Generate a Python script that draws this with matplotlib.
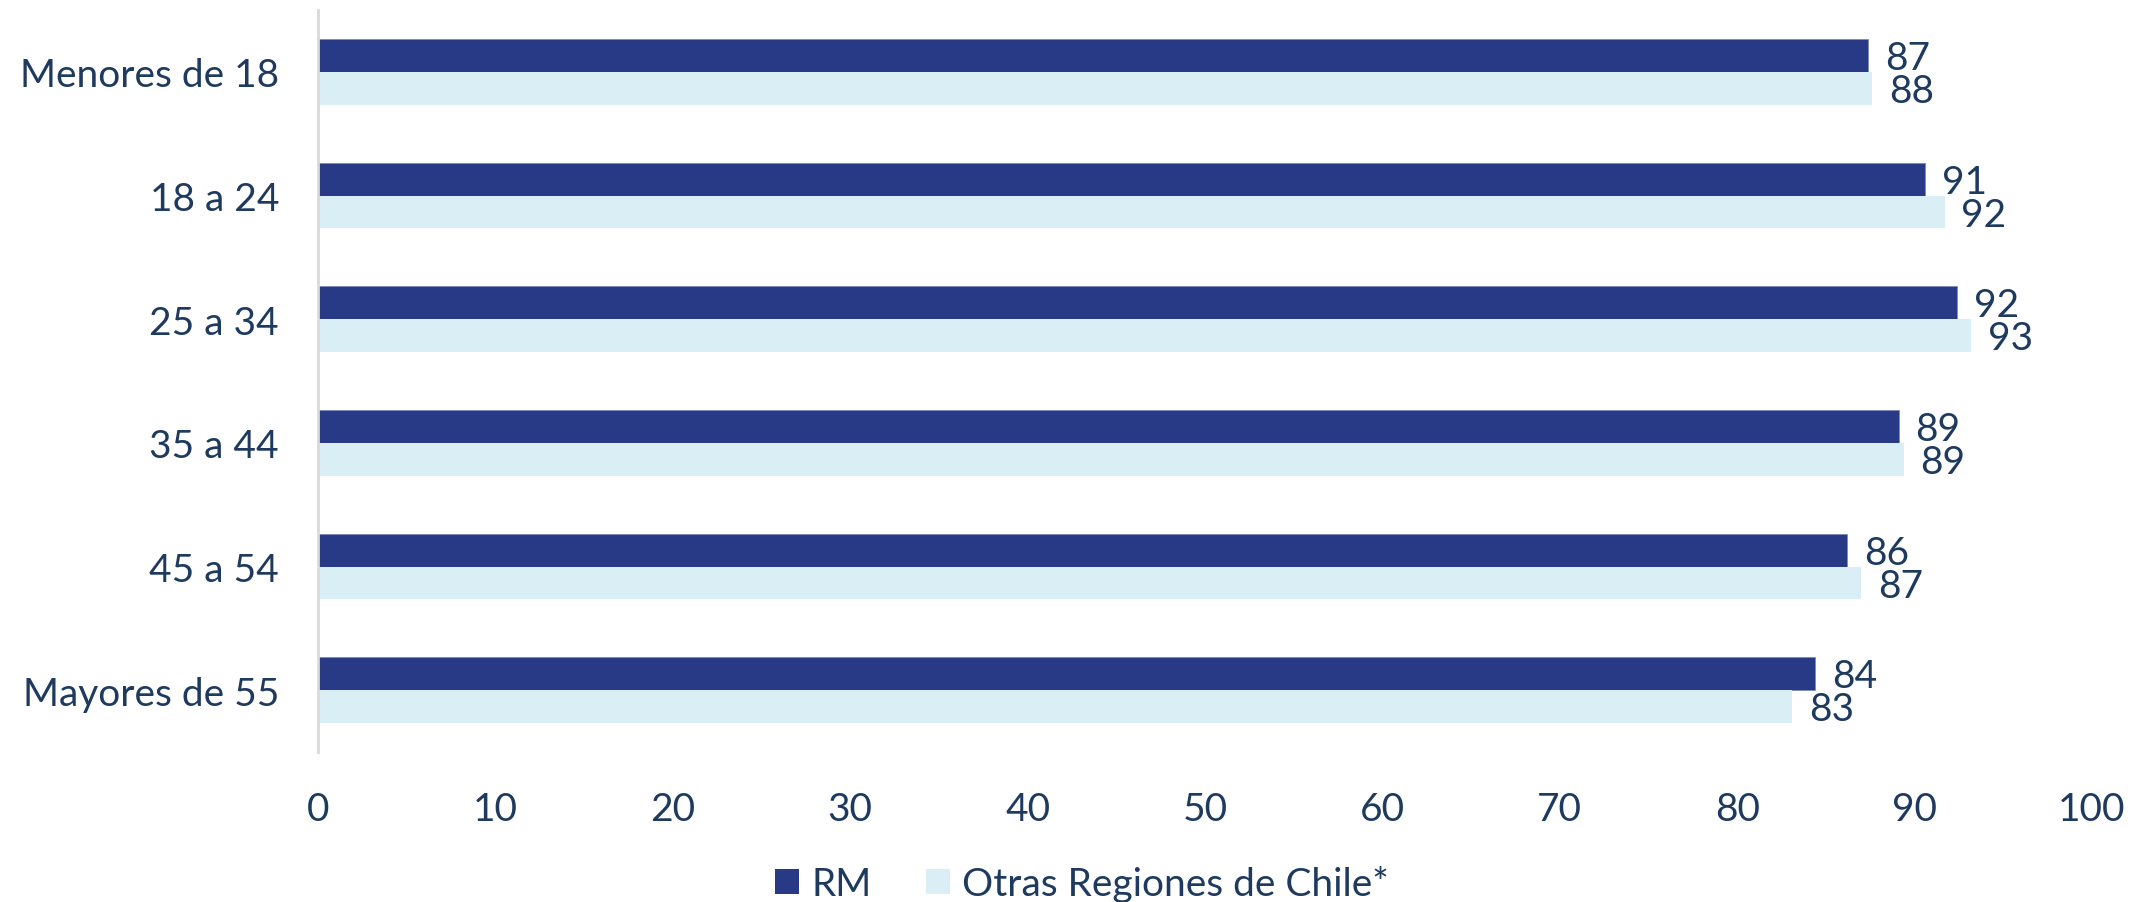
import matplotlib
matplotlib.use("Agg")
import matplotlib.pyplot as plt
from matplotlib.patches import Patch

categories = ["Menores de 18", "18 a 24", "25 a 34", "35 a 44", "45 a 54", "Mayores de 55"]
rm_values = [87.4, 90.6, 92.4, 89.1, 86.2, 84.4]
otras_values = [87.6, 91.7, 93.2, 89.4, 87.0, 83.1]
rm_labels = ["87", "91", "92", "89", "86", "84"]
otras_labels = ["88", "92", "93", "89", "87", "83"]
series_names = ["RM", "Otras Regiones de Chile*"]
xticks = [0, 10, 20, 30, 40, 50, 60, 70, 80, 90, 100]

C_RM = "#283A85"
C_OT = "#D9EFF5"
TXT = "#1E3A5F"

plt.rcParams['font.family'] = ['Lato', 'DejaVu Sans']

W, H = 2131, 903
fig = plt.figure(figsize=(W / 100, H / 100), dpi=100)
ax = fig.add_axes([318 / W, 1 - 753 / H, (2092 - 318) / W, (753 - 11) / H])

FS = 28
h = 0.266
ys = list(range(len(categories)))
ax.barh([y - h / 2 for y in ys], rm_values, height=h, color=C_RM, edgecolor="#7F8AB8", linewidth=0.6)
ax.barh([y + h / 2 for y in ys], otras_values, height=h, color=C_OT, linewidth=0)

for y, v, lab in zip(ys, rm_values, rm_labels):
    ax.annotate(lab, (v, y - h / 2), xytext=(12, -2), textcoords="offset points",
                va="center", ha="left", fontsize=FS, color=TXT)
for y, v, lab in zip(ys, otras_values, otras_labels):
    ax.annotate(lab, (v, y + h / 2), xytext=(12, -2), textcoords="offset points",
                va="center", ha="left", fontsize=FS, color=TXT)

ax.set_xlim(0, 100)
ax.set_ylim(5.5, -0.5)
ax.set_yticks(ys)
ax.set_yticklabels(categories)
ax.set_xticks(xticks)
ax.set_xticklabels([str(t) for t in xticks])
ax.tick_params(axis="both", length=0, labelsize=FS, colors=TXT)
ax.tick_params(axis="y", pad=28)
ax.tick_params(axis="x", pad=28)
for s in ["top", "right", "bottom"]:
    ax.spines[s].set_visible(False)
ax.spines["left"].set_color("#D9D9D9")
ax.spines["left"].set_linewidth(2)

handles = [Patch(facecolor=C_RM), Patch(facecolor=C_OT)]
leg = fig.legend(handles, series_names, loc="center", bbox_to_anchor=(1082 / W, 1 - 885 / H),
                 ncol=2, frameon=False, fontsize=FS, handlelength=0.62, handleheight=0.62,
                 handletextpad=0.31, columnspacing=1.4, borderpad=0)
for t in leg.get_texts():
    t.set_color(TXT)

fig.savefig("out.png", dpi=100, facecolor="white")
